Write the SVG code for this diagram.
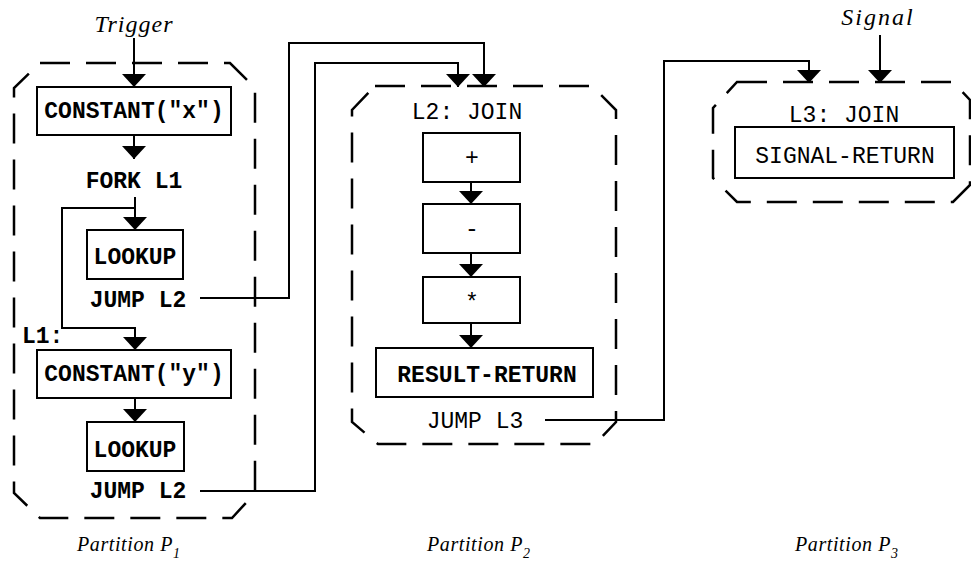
<svg xmlns="http://www.w3.org/2000/svg" width="971" height="567" viewBox="0 0 971 567">
<style>
.part{fill:none;stroke:#000;stroke-width:2.5;stroke-dasharray:30 16}
.box{fill:#fff;stroke:#000;stroke-width:2}
.mono{font-family:"Liberation Mono","DejaVu Sans Mono",monospace;font-size:23px;fill:#000;text-anchor:middle}
.b{font-weight:bold}
.ital{font-family:"Liberation Serif","DejaVu Serif",serif;font-style:italic;fill:#000}
.conn{fill:none;stroke:#000;stroke-width:2;marker-end:url(#arr)}
.plain{fill:none;stroke:#000;stroke-width:2}
</style>
<defs>
<marker id="arr" viewBox="-14 -13 15 26" markerWidth="15" markerHeight="26" markerUnits="userSpaceOnUse" refX="0" refY="0" orient="auto">
<path d="M-13,-12 L0,0 L-13,12 Z" fill="#000"/>
</marker>
</defs>
<rect width="971" height="567" fill="#fff"/>

<g id="partition-p1">
<path class="part" d="M40,63 H230 L255,88 V493 L232,518 H40 L14,493 V88 Z"/>
<text class="ital" x="77" y="551" font-size="20" letter-spacing="0.6">Partition P<tspan font-size="14" dy="7">1</tspan></text>
</g>
<g id="partition-p2">
<path class="part" d="M375,86 H592 L616,110 V422 L595,444 H378 L352,422 V110 Z"/>
<text class="ital" x="427" y="551" font-size="20" letter-spacing="0.6">Partition P<tspan font-size="14" dy="7">2</tspan></text>
</g>
<g id="partition-p3">
<path class="part" d="M737,82 H953 L970,100 V185 L953,202 H737 L713,178 V108 Z"/>
<text class="ital" x="795" y="551" font-size="20" letter-spacing="0.6">Partition P<tspan font-size="14" dy="7">3</tspan></text>
</g>

<g id="trigger"><text class="ital" x="134" y="32" font-size="24" text-anchor="middle" letter-spacing="1">Trigger</text></g>
<g id="signal"><text class="ital" x="878" y="25" font-size="24" text-anchor="middle" letter-spacing="2">Signal</text></g>

<g id="constant-x"><rect class="box" x="37" y="87" width="194" height="48"/><text class="mono b" x="134" y="118">CONSTANT("x")</text></g>
<g id="fork-l1"><text class="mono b" x="134" y="188">FORK L1</text></g>
<g id="lookup-1"><rect class="box" x="87" y="230" width="96" height="49"/><text class="mono b" x="135" y="264">LOOKUP</text></g>
<g id="jump-l2-a"><text class="mono b" x="138" y="307">JUMP L2</text></g>
<g id="label-l1"><text class="mono b" x="22" y="343" style="text-anchor:start">L1:</text></g>
<g id="constant-y"><rect class="box" x="37" y="350" width="194" height="48"/><text class="mono b" x="134" y="381">CONSTANT("y")</text></g>
<g id="lookup-2"><rect class="box" x="87" y="422" width="97" height="49"/><text class="mono b" x="135" y="457">LOOKUP</text></g>
<g id="jump-l2-b"><text class="mono b" x="138" y="498">JUMP L2</text></g>

<g id="l2-join"><text class="mono" x="467" y="119">L2: JOIN</text></g>
<g id="op-plus"><rect class="box" x="423" y="133" width="97" height="49"/><text class="mono" x="472" y="165" font-size="20">+</text></g>
<g id="op-minus"><rect class="box" x="423" y="204" width="97" height="49"/><text class="mono" x="472" y="236" font-size="20">-</text></g>
<g id="op-times"><rect class="box" x="423" y="277" width="97" height="46"/><text class="mono" x="472" y="310" font-size="20">*</text></g>
<g id="result-return"><rect class="box" x="376" y="348" width="217" height="49"/><text class="mono" x="487" y="382" style="font-weight:600">RESULT-RETURN</text></g>
<g id="jump-l3"><text class="mono" x="475" y="428">JUMP L3</text></g>

<g id="l3-join"><text class="mono" x="844" y="122">L3: JOIN</text></g>
<g id="signal-return"><rect class="box" x="735" y="127" width="219" height="51"/><text class="mono" x="845" y="163">SIGNAL-RETURN</text></g>

<g id="connectors">
<path class="conn" d="M134,38 V87"/>
<path class="conn" d="M134,135 V159"/>
<path class="conn" d="M135,197 V230"/>
<path class="conn" d="M135,208 H62 V328 H135 V350"/>
<path class="conn" d="M135,398 V422"/>
<path class="conn" d="M200,298 H289 V43 H484 V87"/>
<path class="conn" d="M200,491 H315 V63 H458 V87"/>
<path class="conn" d="M471,182 V204"/>
<path class="conn" d="M471,253 V277"/>
<path class="conn" d="M471,323 V348"/>
<path class="conn" d="M545,420 H664 V61 H809 V83"/>
<path class="conn" d="M880,35 V83"/>
</g>
</svg>
